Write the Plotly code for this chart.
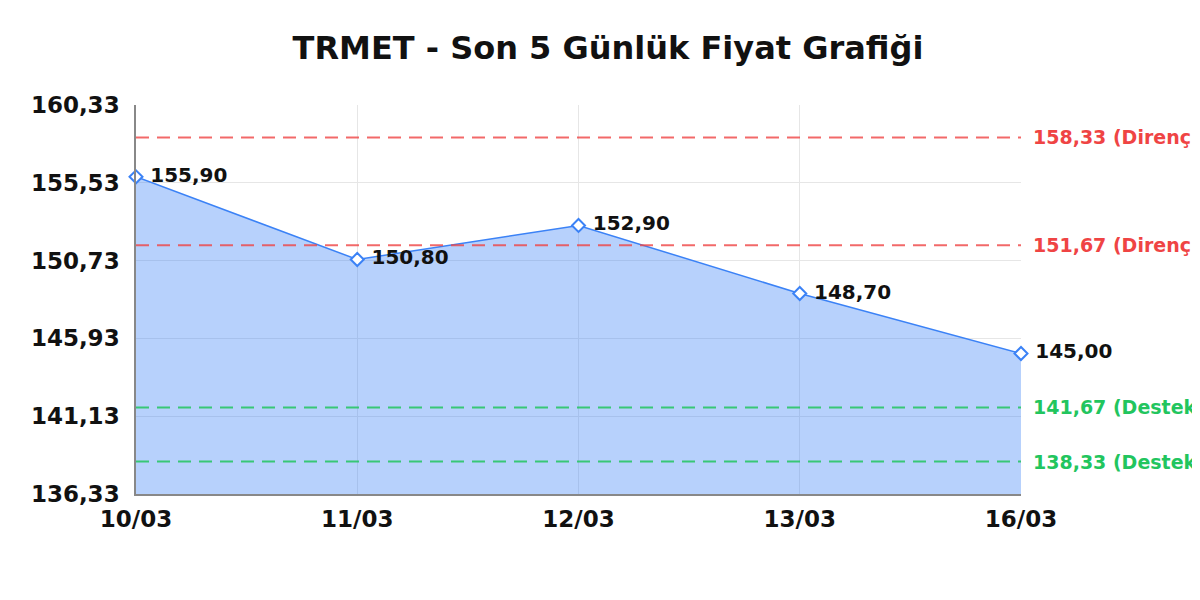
import plotly.graph_objects as go

# fiyat verileri
dates = ['10/03', '11/03', '12/03', '13/03', '16/03']
prices = [155.90, 150.80, 152.90, 148.70, 145.00]

# direnç / destek seviyeleri
resistance = [158.33, 151.67]
support = [141.67, 138.33]

# y ekseni
y_ticks = [136.33, 141.13, 145.93, 150.73, 155.53, 160.33]
y_tick_labels = ['136,33', '141,13', '145,93', '150,73', '155,53', '160,33']

FONT = 'DejaVu Sans'
BLUE = '#3b82f6'
RED = 'rgba(239,68,68,0.8)'
GREEN = 'rgba(34,197,94,0.85)'


def tr_fmt(v):
    return f'{v:.2f}'.replace('.', ',')


fig = go.Figure()

fig.add_trace(go.Scatter(
    x=dates,
    y=prices,
    mode='lines+markers+text',
    line=dict(color=BLUE, width=1.5),
    fill='tozeroy',
    fillcolor='rgba(59,130,246,0.37)',
    marker=dict(symbol='diamond', size=10, color='white',
                line=dict(color=BLUE, width=2)),
    text=[' ' + tr_fmt(p) for p in prices],
    textposition='middle right',
    textfont=dict(family=FONT, size=20, color='#111', weight='bold'),
    showlegend=False,
    cliponaxis=False,
))

# seviye çizgileri
for lvl in resistance:
    fig.add_hline(y=lvl, line=dict(color=RED, width=2, dash='13px,8px'))
    fig.add_annotation(x=1, xref='paper', y=lvl, yref='y', xanchor='left',
                       xshift=10, showarrow=False,
                       text=f'<b>{tr_fmt(lvl)} (Direnç)</b>',
                       font=dict(family=FONT, size=19, color='#ef4444'))
for lvl in support:
    fig.add_hline(y=lvl, line=dict(color=GREEN, width=2, dash='13px,8px'))
    fig.add_annotation(x=1, xref='paper', y=lvl, yref='y', xanchor='left',
                       xshift=10, showarrow=False,
                       text=f'<b>{tr_fmt(lvl)} (Destek)</b>',
                       font=dict(family=FONT, size=19, color='#22c55e'))

fig.update_layout(
    title=dict(text='<b>TRMET - Son 5 Günlük Fiyat Grafiği</b>',
               x=0.5, xanchor='center', y=1 - 40 / 600, yanchor='middle',
               yref='container',
               font=dict(family=FONT, size=32, color='#111')),
    width=1200,
    height=600,
    margin=dict(l=128, r=187, t=97, b=114),
    plot_bgcolor='white',
    paper_bgcolor='white',
    font=dict(family=FONT, color='#111'),
    xaxis=dict(
        type='category',
        range=[0, len(dates) - 1],
        showgrid=True,
        gridcolor='#e6e6e6',
        showline=True,
        linecolor='#888',
        linewidth=1.5,
        ticks='outside',
        ticklen=4,
        tickcolor='rgba(0,0,0,0)',
        tickfont=dict(family=FONT, size=23, color='#111', weight='bold'),
        zeroline=False,
    ),
    yaxis=dict(
        range=[y_ticks[0], y_ticks[-1]],
        tickvals=y_ticks,
        ticktext=y_tick_labels,
        showgrid=True,
        gridcolor='#e6e6e6',
        showline=True,
        linecolor='#888',
        linewidth=1.5,
        ticks='outside',
        ticklen=10,
        tickcolor='rgba(0,0,0,0)',
        tickfont=dict(family=FONT, size=23, color='#111', weight='bold'),
        zeroline=False,
    ),
)

fig.write_html('out.html')
